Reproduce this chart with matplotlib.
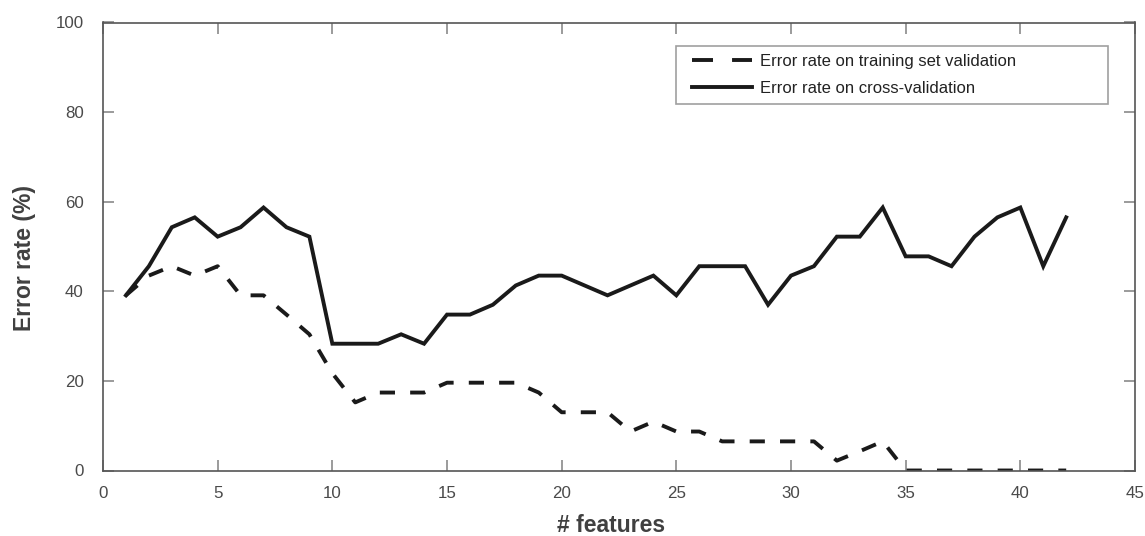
import matplotlib
matplotlib.use("Agg")
import matplotlib.pyplot as plt
from matplotlib.lines import Line2D
from matplotlib.legend_handler import HandlerLine2D

plt.rcParams['font.family'] = ['Liberation Sans', 'DejaVu Sans']

features = list(range(1, 43))
train_err = [39.1, 43.5, 45.6, 43.5, 45.6, 39.1, 39.1, 34.8, 30.4, 21.7,
             15.2, 17.4, 17.4, 17.4, 19.6, 19.6, 19.6, 19.6, 17.4, 13.0,
             13.0, 13.0, 8.7, 10.9, 8.7, 8.7, 6.5, 6.5, 6.5, 6.5,
             6.5, 2.2, 4.3, 6.5, 0.0, 0.0, 0.0, 0.0, 0.0, 0.0,
             0.0, 0.0]
cv_err = [39.1, 45.6, 54.3, 56.5, 52.2, 54.3, 58.7, 54.3, 52.2, 28.3,
          28.3, 28.3, 30.4, 28.3, 34.8, 34.8, 37.0, 41.3, 43.5, 43.5,
          41.3, 39.1, 41.3, 43.5, 39.1, 45.6, 45.6, 45.6, 37.0, 43.5,
          45.6, 52.2, 52.2, 58.7, 47.8, 47.8, 45.6, 52.2, 56.5, 58.7,
          45.6, 56.5]
label_train = "Error rate on training set validation"
label_cv = "Error rate on cross-validation"
xticks = [0, 5, 10, 15, 20, 25, 30, 35, 40, 45]
yticks = [0, 20, 40, 60, 80, 100]

W, H = 1145, 536
fig = plt.figure(figsize=(W / 100, H / 100), dpi=100)
L, R, T, B = 103, 1135, 22.5, 470.5
ax = fig.add_axes([L / W, 1 - B / H, (R - L) / W, (B - T) / H])

lw = 2.8
col = '#1a1a1a'
ax.plot(features, train_err, color=col, lw=lw, dashes=(3.9, 3.9),
        dash_capstyle='butt', solid_joinstyle='miter')
ax.plot(features, cv_err, color=col, lw=lw, solid_joinstyle='miter')

ax.set_xlim(0, 45)
ax.set_ylim(0, 100)
ax.set_xticks(xticks)
ax.set_yticks(yticks)
ax.tick_params(direction='in', length=8, width=1.2, color='#8a8a8a',
               labelcolor='#4a4a4a', labelsize=12.2, top=True, right=True)
ax.tick_params(axis='x', pad=11)
ax.tick_params(axis='y', pad=14)
for s in ax.spines.values():
    s.set_color('#555555')
    s.set_linewidth(1.2)

ax.set_xlabel("# features", fontsize=16.5, fontweight='bold', color='#404040')
ax.set_ylabel("Error rate (%)", fontsize=16.5, fontweight='bold', color='#404040')
ax.xaxis.set_label_coords(0.4925, -0.098, transform=ax.transAxes)
ax.xaxis.label.set_va('top')
ax.yaxis.set_label_coords(-0.065, 0.475, transform=ax.transAxes)


class ShiftedLine(HandlerLine2D):
    def get_xdata(self, legend, xdescent, ydescent, width, height, fontsize):
        xdata = [-xdescent + 6, -xdescent + width - 2]
        return xdata, [-xdescent + width / 2]


h1 = Line2D([], [], color=col, lw=lw, dashes=(5.4, 4.9), dash_capstyle='butt')
h2 = Line2D([], [], color=col, lw=lw)
x0 = (676 - L) / (R - L)
wL = (1108 - 676) / (R - L)
ytop = (B - 46) / (B - T)
leg = ax.legend([h1, h2], [label_train, label_cv], loc='upper left',
                bbox_to_anchor=(x0, ytop - 0.3, wL, 0.3), mode='expand',
                borderaxespad=0, fontsize=12, handlelength=4.25,
                handletextpad=0.3, labelspacing=0.7, borderpad=0.48,
                fancybox=False, frameon=True, labelcolor='#222222',
                handler_map={Line2D: ShiftedLine()})
leg.get_frame().set_edgecolor('#888888')
leg.get_frame().set_linewidth(1.2)

fig.savefig("out.png", dpi=100)
